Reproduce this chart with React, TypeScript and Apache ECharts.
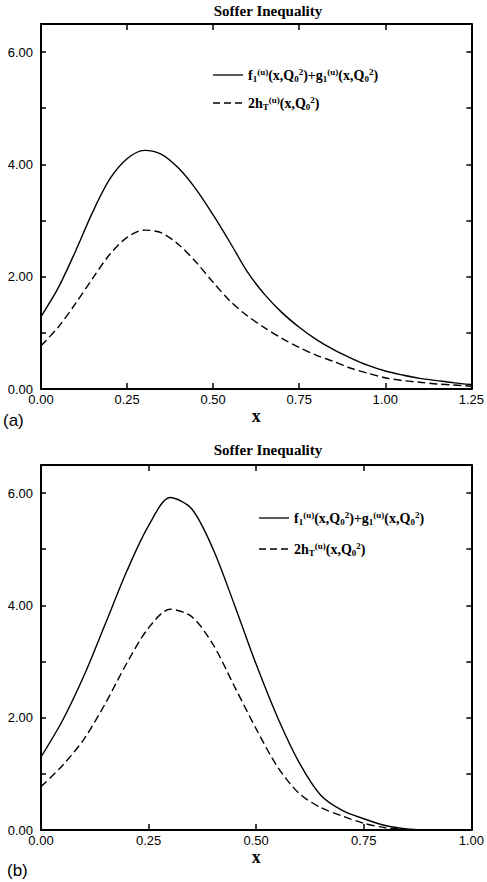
import React, { useEffect, useRef } from "react";
import * as echarts from "echarts";

// Panel (a)
const xA = [0, 0.05, 0.1, 0.15, 0.2, 0.25, 0.3, 0.35, 0.4, 0.45, 0.5, 0.55, 0.6, 0.65, 0.7, 0.75, 0.8, 0.85, 0.9, 0.95, 1.0, 1.05, 1.1, 1.15, 1.2, 1.25];
const solidA = [1.29, 1.8, 2.45, 3.15, 3.74, 4.1, 4.25, 4.18, 3.93, 3.56, 3.1, 2.6, 2.08, 1.68, 1.36, 1.1, 0.88, 0.7, 0.55, 0.42, 0.32, 0.25, 0.19, 0.15, 0.11, 0.08];
const dashedA = [0.77, 1.1, 1.52, 1.97, 2.4, 2.7, 2.83, 2.78, 2.57, 2.26, 1.9, 1.56, 1.3, 1.09, 0.9, 0.74, 0.6, 0.49, 0.37, 0.28, 0.2, 0.15, 0.12, 0.09, 0.07, 0.05];

// Panel (b)
const xB = [0, 0.05, 0.1, 0.15, 0.2, 0.25, 0.3, 0.35, 0.4, 0.45, 0.5, 0.55, 0.6, 0.65, 0.7, 0.75, 0.8, 0.85, 0.9, 0.95, 1.0];
const solidB = [1.3, 1.95, 2.75, 3.68, 4.62, 5.42, 5.92, 5.72, 5.0, 4.0, 2.95, 2.0, 1.2, 0.62, 0.35, 0.2, 0.08, 0.02, 0, 0, 0];
const dashedB = [0.77, 1.15, 1.62, 2.26, 2.98, 3.6, 3.93, 3.8, 3.3, 2.55, 1.8, 1.12, 0.65, 0.4, 0.25, 0.12, 0.04, 0.01, 0, 0, 0];

const yTicks = [0, 1, 2, 3, 4, 5, 6];
const titleText = "Soffer Inequality";

const zip = (xs: number[], ys: number[]) => xs.map((x, i) => [x, ys[i]]);

const AXIS_COLOR = "#000";

function xAxisDef(gridIndex: number, max: number, position: "bottom" | "top", showLabel: boolean) {
  return {
    type: "value",
    gridIndex,
    position,
    min: 0,
    max,
    interval: 0.25,
    name: showLabel ? "x" : "",
    nameLocation: "middle",
    nameGap: 18,
    nameTextStyle: { fontFamily: "Liberation Serif", fontWeight: "bold", fontSize: 18, color: "#000" },
    axisLine: { show: true, onZero: false, lineStyle: { color: AXIS_COLOR, width: 2 } },
    axisTick: { show: true, inside: true, length: 6, lineStyle: { color: AXIS_COLOR, width: 1.5 } },
    axisLabel: {
      show: showLabel,
      formatter: (v: number) => v.toFixed(2),
      fontFamily: "Liberation Sans",
      fontSize: 13,
      color: "#000",
      margin: 4,
      showMaxLabel: true,
      showMinLabel: true,
    },
    splitLine: { show: false },
  };
}

function yAxisDef(gridIndex: number, position: "left" | "right", showLabel: boolean) {
  return {
    type: "value",
    gridIndex,
    position,
    min: 0,
    max: 6.5,
    interval: 1,
    axisLine: { show: true, onZero: false, lineStyle: { color: AXIS_COLOR, width: 2 } },
    axisTick: { show: true, inside: true, length: 5, lineStyle: { color: AXIS_COLOR, width: 1.5 } },
    axisLabel: {
      show: showLabel,
      formatter: (v: number) => (yTicks.includes(v) && v % 2 === 0 ? v.toFixed(2) : ""),
      fontFamily: "Liberation Sans",
      fontSize: 13,
      color: "#000",
      margin: 8,
    },
    splitLine: { show: false },
  };
}

const legendRich = {
  b: { fontFamily: "Liberation Serif", fontWeight: "bold", fontSize: 14, color: "#000", verticalAlign: "middle", lineHeight: 16 },
  sup: { fontFamily: "Liberation Serif", fontWeight: "bold", fontSize: 9, color: "#000", verticalAlign: "top", lineHeight: 16 },
  sub: { fontFamily: "Liberation Serif", fontWeight: "bold", fontSize: 9, color: "#000", verticalAlign: "bottom", lineHeight: 16 },
};

const legend1 = "{b|f}{sub|1}{sup|(u)}{b|(x,Q}{sub|0}{sup|2}{b|)+g}{sub|1}{sup|(u)}{b|(x,Q}{sub|0}{sup|2}{b|)}";
const legend2 = "{b|2h}{sub|T}{sup|(u)}{b|(x,Q}{sub|0}{sup|2}{b|)}";

function legendGraphics(lx: number, y1: number, y2: number) {
  return [
    { type: "line", shape: { x1: lx, y1, x2: lx + 30, y2: y1 }, style: { stroke: "#000", lineWidth: 1.3 } },
    { type: "line", shape: { x1: lx, y1: y2, x2: lx + 30, y2 }, style: { stroke: "#000", lineWidth: 1.6, lineDash: [7, 4] } },
    { type: "text", x: lx + 35, y: y1, style: { text: legend1, rich: legendRich, verticalAlign: "middle", align: "left" } },
    { type: "text", x: lx + 35, y: y2, style: { text: legend2, rich: legendRich, verticalAlign: "middle", align: "left" } },
  ];
}

export default function App() {
  const ref = useRef<HTMLDivElement>(null);
  useEffect(() => {
    document.body.style.margin = "0";
    if (!ref.current) return;
    const chart = echarts.init(ref.current, undefined, { renderer: "svg" });
    const lineStyleSolid = { color: "#000", width: 1.4, type: "solid" };
    const lineStyleDash = { color: "#000", width: 1.4, type: [8, 4] };
    const titleStyle = { fontFamily: "Liberation Serif", fontWeight: "bold", fontSize: 15, fill: "#000", align: "center", verticalAlign: "middle" };
    chart.setOption({
      animation: false,
      backgroundColor: "#fff",
      grid: [
        { left: 41, right: 10, top: 24, height: 365 },
        { left: 41, right: 9, top: 465, height: 365 },
      ],
      xAxis: [
        xAxisDef(0, 1.25, "bottom", true),
        xAxisDef(0, 1.25, "top", false),
        xAxisDef(1, 1.0, "bottom", true),
        xAxisDef(1, 1.0, "top", false),
      ],
      yAxis: [
        yAxisDef(0, "left", true),
        yAxisDef(0, "right", false),
        yAxisDef(1, "left", true),
        yAxisDef(1, "right", false),
      ],
      series: [
        { type: "line", xAxisIndex: 0, yAxisIndex: 0, data: zip(xA, solidA), smooth: 0.3, showSymbol: false, lineStyle: lineStyleSolid },
        { type: "line", xAxisIndex: 0, yAxisIndex: 0, data: zip(xA, dashedA), smooth: 0.3, showSymbol: false, lineStyle: lineStyleDash },
        { type: "line", xAxisIndex: 2, yAxisIndex: 2, data: zip(xB, solidB), smooth: 0.3, showSymbol: false, lineStyle: lineStyleSolid },
        { type: "line", xAxisIndex: 2, yAxisIndex: 2, data: zip(xB, dashedB), smooth: 0.3, showSymbol: false, lineStyle: lineStyleDash },
      ],
      graphic: [
        { type: "text", x: 268, y: 11, style: { text: titleText, ...titleStyle } },
        { type: "text", x: 268, y: 450, style: { text: titleText, ...titleStyle } },
        { type: "text", x: 3, y: 420, style: { text: "(a)", fontFamily: "Liberation Sans", fontSize: 17, fill: "#000", align: "left", verticalAlign: "middle" } },
        { type: "text", x: 7, y: 870, style: { text: "(b)", fontFamily: "Liberation Sans", fontSize: 17, fill: "#000", align: "left", verticalAlign: "middle" } },
        ...legendGraphics(213, 75, 103),
        ...legendGraphics(259, 518, 549),
      ],
    });
    return () => chart.dispose();
  }, []);
  return <div ref={ref} style={{ width: 487, height: 882 }} />;
}
